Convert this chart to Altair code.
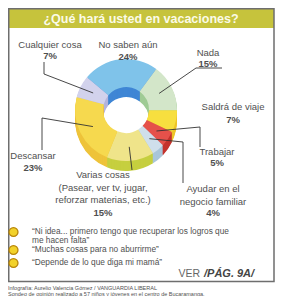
import math
import altair as alt
import pandas as pd

# ---------------- data ----------------
CATS = ["No saben aún", "Nada", "Saldrá de viaje", "Trabajar",
        "Ayudar en el negocio familiar", "Varias cosas", "Descansar", "Cualquier cosa"]
VALUES = [24, 15, 7, 5, 4, 15, 23, 7]
NAMES = ["No saben aún", "Nada", "Saldrá de viaje", "Trabajar",
         "Ayudar en el\nnegocio familiar",
         "Varias cosas\n(Pasear, ver tv, jugar,\nreforzar materias, etc.)",
         "Descansar", "Cualquier cosa"]
PCTS = ["24%", "15%", "7%", "5%", "4%", "15%", "23%", "7%"]
TITLE = "¿Qué hará usted en vacaciones?"
QUOTES = ["“Ni idea... primero tengo que recuperar los logros que\nme hacen falta”",
          "“Muchas cosas para no aburrirme”",
          "“Depende de lo que diga mi mamá”"]
REF_TEXT = ["VER", "/PÁG. 9A/"]
CREDITS = ["Infografía: Aurelio Valencia Gómez / VANGUARDIA LIBERAL",
           "Sondeo de opinión realizado a 57 niños y jóvenes en el centro de Bucaramanga."]

# ---------------- styles / layout ----------------
TOP_COLORS = ["#7fc3ea", "#d3e6c9", "#f7df3f", "#e5514a", "#cfdfeb", "#efe48a", "#f6d94e", "#d2d2ec"]
SIDE_COLORS = ["#3f86d5", "#9fcb95", "#eec52a", "#c4342e", "#a9c6d9", "#c6cf3f", "#eec33a", "#b4b4dd"]
OFF = 8                      # page margin
W, H = 267, 288
CX, CY = 126 - OFF, 110 - OFF  # donut centre (chart px)
RO, RI, DEPTH = 51, 23, 10
START = math.radians(-50)
FONT = "Liberation Sans Narrow, Liberation Sans, Arial"
GRAY = "#505050"

# label layout in page coordinates: (x, name top, pct top)
LABEL_POS = {
    "No saben aún": (128, 40, 52),
    "Nada": (208, 48, 59),
    "Saldrá de viaje": (233, 102, 115),
    "Trabajar": (217, 147, 158),
    "Ayudar en el negocio familiar": (213, 184, 208),
    "Varias cosas": (103, 170, 208),
    "Descansar": (33, 151, 163),
    "Cualquier cosa": (50, 40, 51),
}
# leader lines: anchor points (page coords), end is computed on the slice
LEADERS = {
    "Cualquier cosa": [(44, 62), (44, 74)],
    "Nada": [(222, 68), (196, 68)],
    "Trabajar": [(200, 147), (200, 127)],
    "Ayudar en el negocio familiar": [(183, 183), (183, 142)],
    "Varias cosas": [(132, 170)],
    "Descansar": [(42, 150), (42, 118)],
}
QUOTE_Y = [232, 250, 263]

# ---------------- build tables ----------------
df = pd.DataFrame({"cat": CATS, "value": VALUES, "idx": list(range(len(CATS)))})
total = sum(VALUES)

theta = alt.Theta("value:Q", stack=True,
                  scale=alt.Scale(domain=[0, total], range=[START, START + 2 * math.pi]))
order = alt.Order("idx:Q")


def ring(colors, dy):
    return alt.Chart(df).mark_arc(innerRadius=RI, outerRadius=RO).encode(
        theta=theta, order=order,
        color=alt.Color("cat:N", scale=alt.Scale(domain=CATS, range=colors), legend=None),
        x=alt.value(CX), y=alt.value(CY + dy),
    )


layers = []

# frame + title bar
frame = pd.DataFrame({"k": [0]})
layers.append(alt.Chart(frame).mark_rect(fill="white").encode(
    x=alt.value(0), x2=alt.value(W), y=alt.value(0), y2=alt.value(H)))
layers.append(alt.Chart(frame).mark_rect(fill="#c6c33c").encode(
    x=alt.value(0.75), x2=alt.value(266), y=alt.value(0), y2=alt.value(20)))
layers.append(alt.Chart(frame).mark_rect(fill=None, stroke="#6e6e6e", strokeWidth=1.5).encode(
    x=alt.value(0.75), x2=alt.value(266), y=alt.value(0.75), y2=alt.value(273.5)))
layers.append(alt.Chart(pd.DataFrame({"t": [TITLE]})).mark_text(
    font="Liberation Sans", fontWeight="bold", fontSize=12.5, color="#fbfbe8",
    align="center", baseline="middle").encode(
    text="t:N", x=alt.value(133), y=alt.value(10.5)))

# donut: side layers then top
for d in range(DEPTH, 0, -1):
    layers.append(ring(SIDE_COLORS, d))
layers.append(ring(TOP_COLORS, 0))

# leader lines (end point computed from the slice mid-angle)
rmid = (RO + RI) / 2
rows = []
cum = 0
for cat, v in zip(CATS, VALUES):
    mid = START + 2 * math.pi * (cum + v / 2) / total
    cum += v
    if cat in LEADERS:
        pts = [(x - OFF, y - OFF) for x, y in LEADERS[cat]]
        pts.append((CX + rmid * math.sin(mid), CY - rmid * math.cos(mid)))
        for s, (x, y) in enumerate(pts):
            rows.append({"cat": cat, "step": s, "x": x, "y": y})
lead = pd.DataFrame(rows)
layers.append(alt.Chart(lead).mark_line(color="#333333", strokeWidth=0.9).encode(
    x=alt.X("x:Q", scale=None, axis=None), y=alt.Y("y:Q", scale=None, axis=None),
    detail="cat:N", order="step:Q"))

# labels
lab = pd.DataFrame({
    "name": NAMES, "pct": PCTS,
    "x": [LABEL_POS[c][0] - OFF for c in CATS],
    "ny": [LABEL_POS[c][1] - OFF for c in CATS],
    "py": [LABEL_POS[c][2] - OFF for c in CATS],
})
layers.append(alt.Chart(lab).mark_text(
    font=FONT, fontSize=9.5, color=GRAY, align="center", baseline="top",
    lineBreak="\n", lineHeight=12.5).encode(
    text="name:N", x=alt.X("x:Q", scale=None, axis=None), y=alt.Y("ny:Q", scale=None, axis=None)))
layers.append(alt.Chart(lab).mark_text(
    font=FONT, fontSize=9.5, fontWeight="bold", color=GRAY, align="center", baseline="top").encode(
    text="pct:N", x=alt.X("x:Q", scale=None, axis=None), y=alt.Y("py:Q", scale=None, axis=None)))

# quotes with bullets
qdf = pd.DataFrame({"q": QUOTES, "y": [y - OFF for y in QUOTE_Y]})
layers.append(alt.Chart(qdf).mark_point(
    shape="circle", filled=True, fill="#f2d22a", stroke="#b8860b", strokeWidth=1.3,
    opacity=1, size=80).encode(
    x=alt.value(13.5 - OFF), y=alt.Y("y:Q", scale=None, axis=None)))
layers.append(alt.Chart(qdf).mark_text(
    font=FONT, fontSize=8.3, color=GRAY, align="left", baseline="middle",
    lineBreak="\n", lineHeight=8.5).encode(
    text="q:N", x=alt.value(32 - OFF), y=alt.Y("y:Q", scale=None, axis=None)))

# reference to page
layers.append(alt.Chart(pd.DataFrame({"t": [REF_TEXT[0]]})).mark_text(
    font="Liberation Sans", fontSize=10.5, color="#666666", align="right", baseline="middle").encode(
    text="t:N", x=alt.value(200 - OFF), y=alt.value(274 - OFF)))
layers.append(alt.Chart(pd.DataFrame({"t": [REF_TEXT[1]]})).mark_text(
    font="Liberation Sans", fontSize=11, fontWeight="bold", fontStyle="italic",
    color="#444444", align="left", baseline="middle").encode(
    text="t:N", x=alt.value(204 - OFF), y=alt.value(274 - OFF)))

# credits
cdf = pd.DataFrame({"t": CREDITS, "y": [288 - OFF, 293.5 - OFF]})
layers.append(alt.Chart(cdf).mark_text(
    font=FONT, fontSize=5.5, color=GRAY, align="left", baseline="middle").encode(
    text="t:N", x=alt.value(0), y=alt.Y("y:Q", scale=None, axis=None)))

chart = alt.layer(*layers).resolve_scale(color="independent").properties(
    width=W, height=H, padding=0, autosize="none"
).configure_view(stroke=None)

chart.save("out.html", embed_options={"renderer": "svg", "actions": False})
